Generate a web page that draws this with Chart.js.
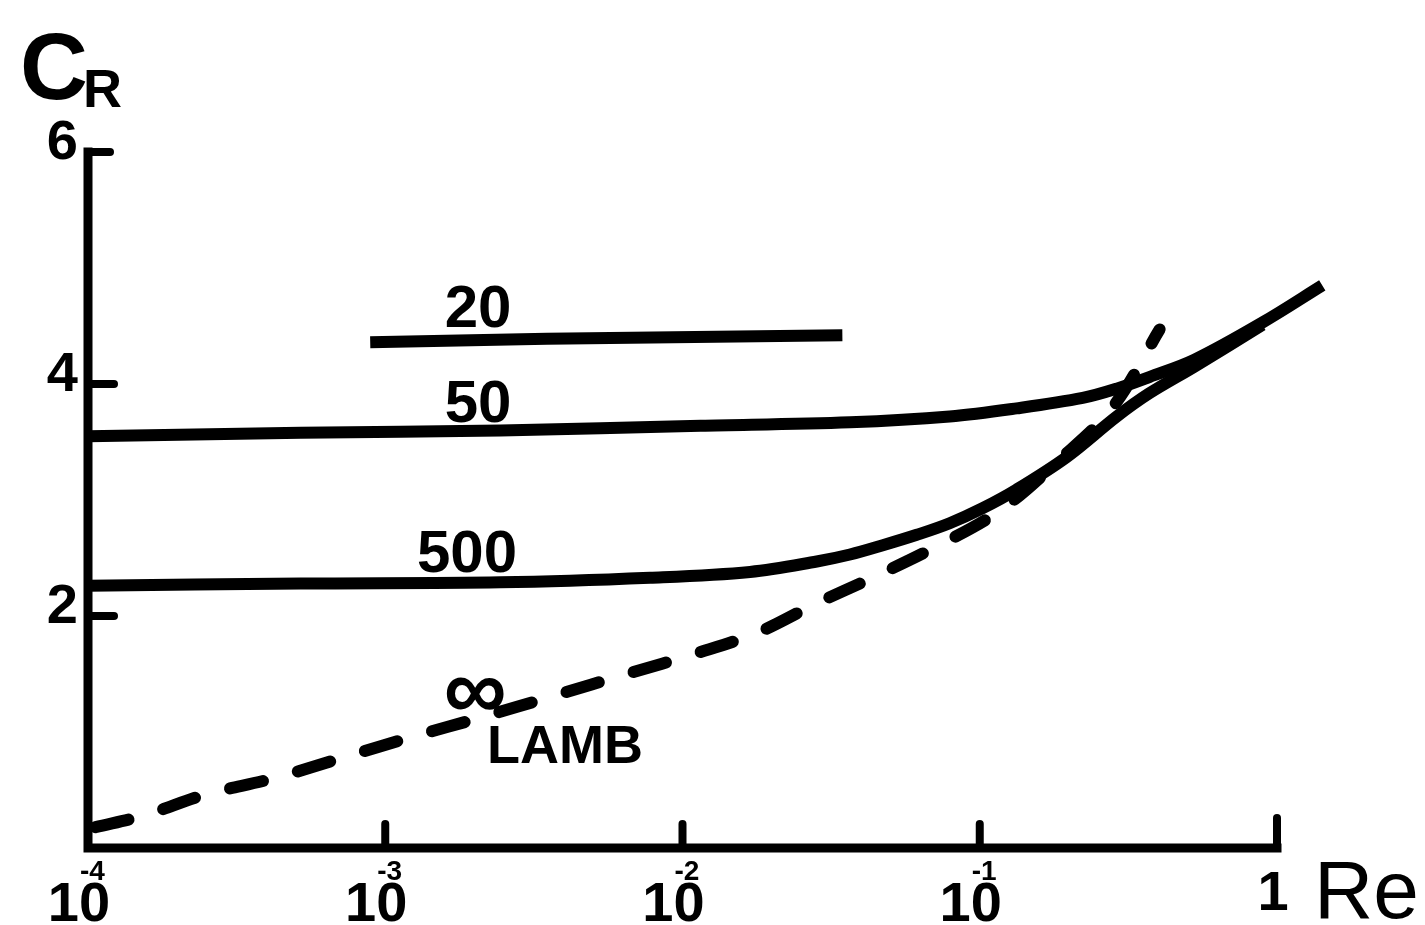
<!DOCTYPE html>
<html>
<head>
<meta charset="utf-8">
<title>C_R vs Re</title>
<script src="https://cdn.jsdelivr.net/npm/chart.js@4.4.1/dist/chart.umd.min.js"></script>
<style>
    html, body { margin: 0; padding: 0; background: #fff; }
    #wrap { width: 1425px; height: 925px; }
</style>
</head>
<body>
<div id="wrap"><canvas id="crChart" width="1425" height="925"></canvas></div>
<script>
// values (Re on a log axis, C_R linear)
const xTickValues = [0.0001, 0.001, 0.01, 0.1, 1];
const yTickValues = [0, 2, 4, 6];

const re20 = [0.00089, 0.0035, 0.0345];
const cr20 = [4.36, 4.39, 4.42];

const re50 = [0.0001, 0.00052, 0.00244, 0.0115, 0.0366, 0.0792, 0.133, 0.222, 0.289, 0.372, 0.528, 0.893, 1.42];
const cr50 = [3.55, 3.58, 3.60, 3.64, 3.67, 3.72, 3.79, 3.88, 3.96, 4.06, 4.21, 4.53, 4.85];

const re500 = [0.0001, 0.00052, 0.00244, 0.00778, 0.01687, 0.0283, 0.0366, 0.0472, 0.0614, 0.0792, 0.1023, 0.133, 0.196, 0.289, 0.372, 0.528, 0.893];
const cr500 = [2.26, 2.28, 2.29, 2.33, 2.38, 2.47, 2.53, 2.61, 2.70, 2.80, 2.93, 3.09, 3.37, 3.72, 3.92, 4.15, 4.51];

const reLamb = [0.000106, 0.000154, 0.000248, 0.00042, 0.000723, 0.00124, 0.00213, 0.00367, 0.0065, 0.0112, 0.018, 0.0283, 0.0444, 0.0716, 0.117, 0.186, 0.28, 0.403];
const crLamb = [0.18, 0.28, 0.46, 0.60, 0.78, 0.96, 1.13, 1.31, 1.50, 1.68, 1.86, 2.11, 2.34, 2.60, 2.91, 3.35, 3.80, 4.47];

const FONT = '"Liberation Sans", Arial, sans-serif';

function toPoints(xs, ys) {
    return xs.map((x, i) => ({ x: x, y: ys[i] }));
}

function curve(label, xs, ys, dashed) {
    return {
        label: label,
        data: toPoints(xs, ys),
        borderColor: '#000',
        borderWidth: 12,
        borderDash: dashed ? [34, 36] : [],
        borderCapStyle: dashed ? 'round' : 'butt',
        pointRadius: 0,
        tension: 0.35,
        fill: false,
        clip: false
    };
}

// axes, hooks, tick labels and curve labels drawn in the old hand-lettered style
const figureDecor = {
    id: 'figureDecor',
    afterDatasetsDraw(chart) {
        const ctx = chart.ctx;
        const xs = chart.scales.x;
        const ys = chart.scales.y;
        const left = xs.getPixelForValue(xTickValues[0]);
        const right = xs.getPixelForValue(xTickValues[xTickValues.length - 1]);
        const top = ys.getPixelForValue(6);
        const bottom = ys.getPixelForValue(0);

        ctx.save();
        ctx.strokeStyle = '#000';
        ctx.fillStyle = '#000';
        ctx.lineCap = 'square';

        // axis lines
        ctx.lineWidth = 9;
        ctx.beginPath();
        ctx.moveTo(left, top);
        ctx.lineTo(left, bottom);
        ctx.lineTo(right, bottom);
        ctx.stroke();

        // tick marks pointing inward
        ctx.lineWidth = 8;
        ctx.lineCap = 'round';
        yTickValues.forEach(v => {
            if (v === 0) return;
            const py = ys.getPixelForValue(v);
            ctx.beginPath();
            ctx.moveTo(left, py);
            ctx.lineTo(left + (v === 6 ? 22 : 26), py);
            ctx.stroke();
        });
        xTickValues.forEach((v, i) => {
            if (i === 0) return;
            const px = xs.getPixelForValue(v);
            ctx.beginPath();
            ctx.moveTo(px, bottom);
            ctx.lineTo(px, bottom - (v === 1 ? 30 : 24));
            ctx.stroke();
        });

        // y tick labels
        ctx.font = 'bold 56px ' + FONT;
        ctx.textAlign = 'right';
        ctx.textBaseline = 'middle';
        yTickValues.forEach(v => {
            if (v === 0) return;
            ctx.fillText(String(v), left - 10, ys.getPixelForValue(v) - 8);
        });

        // x tick labels: 10 with a small raised exponent
        ctx.textBaseline = 'alphabetic';
        xTickValues.forEach(v => {
            const px = xs.getPixelForValue(v);
            ctx.font = 'bold 56px ' + FONT;
            ctx.textAlign = 'center';
            if (v === 1) {
                ctx.fillText('1', px - 4, 910);
                return;
            }
            ctx.fillText('10', px - 9, 921);
            ctx.font = 'bold 28px ' + FONT;
            ctx.textAlign = 'left';
            ctx.fillText('-' + Math.round(-Math.log10(v)), px - 8, 880);
        });

        // axis titles
        ctx.textAlign = 'left';
        ctx.font = 'bold 94px ' + FONT;
        ctx.fillText('C', 20, 99);
        ctx.font = 'bold 54px ' + FONT;
        ctx.fillText('R', 83, 107);
        ctx.font = '82px ' + FONT;
        ctx.fillText('Re', 1314, 918);

        // curve labels
        ctx.font = 'bold 60px ' + FONT;
        ctx.textAlign = 'center';
        ctx.fillText('20', 478, 327);
        ctx.fillText('50', 478, 422);
        ctx.fillText('500', 467, 572);
        ctx.font = 'bold 88px ' + FONT;
        ctx.fillText('\u221E', 475, 719);
        ctx.font = 'bold 54px ' + FONT;
        ctx.textAlign = 'left';
        ctx.fillText('LAMB', 487, 763);

        ctx.restore();
    }
};

class CrChart {
    constructor(id) {
        this.canvas = document.getElementById(id);
        this.build();
    }

    build() {
        this.chart = new Chart(this.canvas, {
            type: 'line',
            data: {
                datasets: [
                    curve('20', re20, cr20, false),
                    curve('50', re50, cr50, false),
                    curve('500', re500, cr500, false),
                    curve('\u221E (Lamb)', reLamb, crLamb, true)
                ]
            },
            options: {
                responsive: false,
                animation: false,
                devicePixelRatio: 1,
                layout: {
                    padding: { left: 88, right: 148, top: 152, bottom: 77 }
                },
                plugins: {
                    legend: { display: false },
                    tooltip: { enabled: false },
                    title: { display: false }
                },
                scales: {
                    x: {
                        type: 'logarithmic',
                        min: xTickValues[0],
                        max: xTickValues[xTickValues.length - 1],
                        afterBuildTicks: axis => {
                            axis.ticks = xTickValues.map(v => ({ value: v }));
                        },
                        ticks: { display: false },
                        grid: { display: false, drawTicks: false },
                        border: { display: false }
                    },
                    y: {
                        type: 'linear',
                        min: 0,
                        max: 6,
                        afterBuildTicks: axis => {
                            axis.ticks = yTickValues.map(v => ({ value: v }));
                        },
                        ticks: { display: false },
                        grid: { display: false, drawTicks: false },
                        border: { display: false }
                    }
                }
            },
            plugins: [figureDecor]
        });
    }
}

new CrChart('crChart');
</script>
</body>
</html>
